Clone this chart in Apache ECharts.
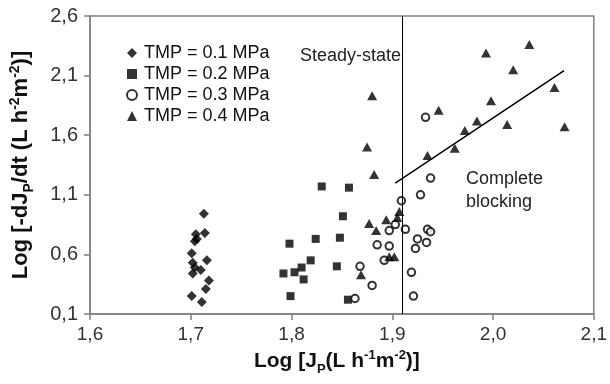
<!DOCTYPE html>
<html>
<head>
<meta charset="utf-8">
<script src="https://cdn.jsdelivr.net/npm/echarts@6/dist/echarts.min.js"></script>
<style>html,body{margin:0;padding:0;background:#fff}#c{width:610px;height:384px}</style>
</head>
<body>
<div id="c"></div>
<script>
// ---- data ----
var xTicks = [1.6, 1.7, 1.8, 1.9, 2.0, 2.1];
var yTicks = [0.1, 0.6, 1.1, 1.6, 2.1, 2.6];
var seriesNames = ['TMP = 0.1 MPa', 'TMP = 0.2 MPa', 'TMP = 0.3 MPa', 'TMP = 0.4 MPa'];

var tmp01X = [1.713, 1.714, 1.705, 1.706, 1.704, 1.701, 1.716, 1.702, 1.704, 1.710, 1.702, 1.718, 1.715, 1.701, 1.711];
var tmp01Y = [0.94, 0.78, 0.77, 0.73, 0.71, 0.61, 0.55, 0.53, 0.49, 0.47, 0.44, 0.38, 0.31, 0.25, 0.20];

var tmp02X = [1.830, 1.857, 1.851, 1.798, 1.824, 1.848, 1.819, 1.810, 1.792, 1.803, 1.812, 1.845, 1.799, 1.856];
var tmp02Y = [1.17, 1.16, 0.92, 0.69, 0.73, 0.74, 0.55, 0.49, 0.44, 0.45, 0.39, 0.50, 0.25, 0.22];

var tmp03X = [1.933, 1.938, 1.928, 1.909, 1.903, 1.897, 1.913, 1.935, 1.938, 1.885, 1.897, 1.925, 1.934, 1.923, 1.892, 1.919, 1.921, 1.868, 1.880, 1.863];
var tmp03Y = [1.75, 1.24, 1.10, 1.05, 0.85, 0.80, 0.81, 0.81, 0.79, 0.68, 0.67, 0.73, 0.70, 0.65, 0.55, 0.45, 0.25, 0.50, 0.34, 0.23];

var tmp04X = [1.880, 1.875, 1.882, 1.877, 1.884, 1.869, 1.935, 1.946, 1.962, 1.907, 1.905, 1.894, 1.897, 1.902, 1.993, 2.036, 2.020, 2.061, 1.998, 1.984, 1.972, 2.014, 2.071];
var tmp04Y = [1.93, 1.50, 1.27, 0.86, 0.80, 0.43, 1.43, 1.81, 1.49, 0.96, 0.91, 0.89, 0.58, 0.58, 2.29, 2.36, 2.15, 2.00, 1.89, 1.72, 1.64, 1.69, 1.67];

var fitX = [1.903, 2.0705];
var fitY = [1.197, 2.141];
var boundaryX = 1.91;

// ---- build ----
function pairs(xs, ys) { return xs.map(function (x, i) { return [x, ys[i]]; }); }
var FONT = 'Liberation Sans, Arial, sans-serif';
var fmt = function (v) { return (Math.round(v * 10) / 10).toFixed(1).replace('.', ','); };

var chart = echarts.init(document.getElementById('c'), null, { renderer: 'canvas' });
var symbols = ['diamond', 'rect', 'emptyCircle', 'triangle'];
var sizes = [[10, 10], [8, 8], [7.5, 7.5], [10, 9]];
var datas = [pairs(tmp01X, tmp01Y), pairs(tmp02X, tmp02Y), pairs(tmp03X, tmp03Y), pairs(tmp04X, tmp04Y)];

var series = datas.map(function (d, i) {
  return {
    name: seriesNames[i], type: 'scatter', data: d,
    symbol: symbols[i], symbolSize: sizes[i],
    itemStyle: { color: '#000', borderColor: '#000', borderWidth: i === 2 ? 1.2 : 0 },
    emphasis: { disabled: true }, z: 3
  };
});
series.push({
  name: 'fit', type: 'line', data: pairs(fitX, fitY), symbol: 'none',
  lineStyle: { color: '#000', width: 1.5 }, silent: true, z: 2,
  markLine: {
    silent: true, symbol: 'none', label: { show: false },
    lineStyle: { color: '#000', width: 1, type: 'solid' },
    data: [{ xAxis: boundaryX }]
  }
});

function titleRich(main, small) {
  return {
    b: { fontFamily: FONT, fontSize: main, fontWeight: 'bold', color: '#111', lineHeight: main + 4 },
    bs: { fontFamily: FONT, fontSize: small, fontWeight: 'bold', color: '#111', verticalAlign: 'bottom', lineHeight: main + 4, padding: [0, 0, -2, 0] },
    bp: { fontFamily: FONT, fontSize: small, fontWeight: 'bold', color: '#111', verticalAlign: 'top', lineHeight: main + 4 }
  };
}

var option = {
  animation: false,
  textStyle: { fontFamily: FONT },
  grid: { left: 88, right: 13, top: 16, bottom: 70, show: true, borderColor: '#808080', borderWidth: 1.5 },
  legend: {
    orient: 'vertical', left: 121, top: 39, itemWidth: 10, itemHeight: 10, itemGap: 3,
    selectedMode: false,
    data: seriesNames.map(function (n, i) { return { name: n, icon: symbols[i] }; }),
    textStyle: { fontFamily: FONT, fontSize: 18, color: '#111', lineHeight: 18, padding: [0, 0, 0, 2] }
  },
  xAxis: {
    type: 'value', min: 1.6, max: 2.1,
    name: '{b|Log [J}{bs|P}{b|(L h}{bp|-1}{b|m}{bp|-2}{b|)]}',
    nameLocation: 'middle', nameGap: 29,
    nameTextStyle: { padding: [0, 10, 0, 0], rich: titleRich(21, 13) },
    axisLine: { show: true, lineStyle: { color: '#808080', width: 1.5 } },
    axisTick: { show: true, inside: false, length: 6, customValues: xTicks, lineStyle: { color: '#808080', width: 1.5 } },
    axisLabel: { customValues: xTicks, formatter: fmt, fontSize: 19, color: '#333', margin: 11, fontFamily: FONT },
    splitLine: { show: false }
  },
  yAxis: {
    type: 'value', min: 0.1, max: 2.6,
    name: '{b|Log [-dJ}{bs|P}{b|/dt (L h}{bp|-2}{b|m}{bp|-2}{b|)]}',
    nameLocation: 'middle', nameGap: 56, nameRotate: 90,
    nameTextStyle: { rich: titleRich(22, 14) },
    axisLine: { show: true, lineStyle: { color: '#808080', width: 1.5 } },
    axisTick: { show: true, inside: false, length: 6, customValues: yTicks, lineStyle: { color: '#808080', width: 1.5 } },
    axisLabel: { customValues: yTicks, formatter: fmt, fontSize: 20, color: '#333', margin: 12, fontFamily: FONT },
    splitLine: { show: false }
  },
  graphic: [
    { type: 'text', left: 300, top: 47, style: { text: 'Steady-state', font: '18px ' + FONT, fill: '#222' } },
    { type: 'text', left: 466, top: 168, style: { text: 'Complete\nblocking', font: '18px ' + FONT, fill: '#222', lineHeight: 23 } }
  ],
  series: series
};
chart.setOption(option);
</script>
</body>
</html>
